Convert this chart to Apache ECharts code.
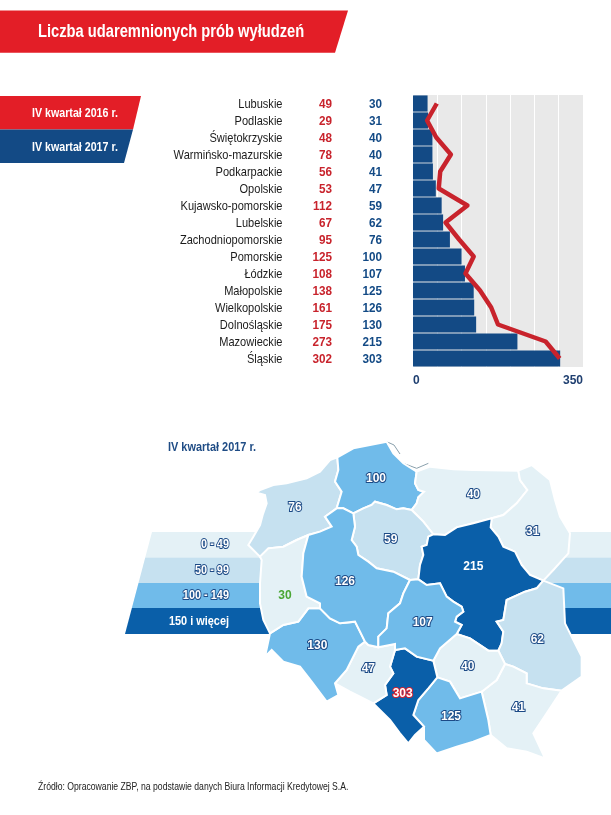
<!DOCTYPE html>
<html><head><meta charset="utf-8">
<style>html,body{margin:0;padding:0;background:#fff}#c{width:611px;height:815px}</style>
<script src="https://cdn.jsdelivr.net/npm/echarts@6/dist/echarts.min.js"></script>
</head><body><div id="c"></div>
<script>
const categories=['Lubuskie','Podlaskie','Świętokrzyskie','Warmińsko-mazurskie','Podkarpackie','Opolskie','Kujawsko-pomorskie','Lubelskie','Zachodniopomorskie','Pomorskie','Łódzkie','Małopolskie','Wielkopolskie','Dolnośląskie','Mazowieckie','Śląskie'];
const values2016=[49,29,48,78,56,53,112,67,95,125,108,138,161,175,273,302];
const values2017=[30,31,40,40,41,47,59,62,76,100,107,125,126,130,215,303];
const legendRanges=[['0 - 49',0,49],['50 - 99',50,99],['100 - 149',100,149],['150 i więcej',150,100000]];
const rangeColors=['#e4f1f6','#c6e1f0','#70bbea','#0a5fa9'];
// shared border arcs of the regions (outline geometry)
const arcs={
zp_coast:[[292,52],[270,60],[240,95],[200,115],[140,130],[100,135],[60,150],[50,158],[75,165],[80,190],[68,225],[60,255],[40,290],[25,315],[60,350]],
zp_lub:[[60,350],[85,325],[130,320],[170,300],[205,285]],
zp_wlk:[[205,285],[240,275],[275,260],[255,230],[290,205]],
zp_pom:[[290,205],[305,155],[285,125],[295,90],[292,52]],
pom_coast:[[292,52],[340,25],[390,15],[440,5],[460,40],[490,70],[530,95]],
pom_wm:[[530,95],[525,130],[535,150],[552,155],[535,172],[530,190],[515,210]],
pom_kuj:[[515,210],[490,205],[470,208],[440,195],[405,185],[395,195],[370,205],[340,220]],
pom_wlk:[[340,220],[310,205],[290,205]],
wm_coast:[[530,95],[570,80],[640,88],[700,90],[835,92]],
wm_pod:[[835,92],[840,120],[862,150],[830,190],[790,225],[755,235]],
wm_maz:[[755,235],[700,250],[650,262],[615,285],[580,283]],
wm_kuj:[[580,283],[550,245],[515,210]],
pod_ext:[[835,92],[875,75],[930,120],[945,180],[960,230],[990,280],[985,340],[940,390],[910,422]],
pod_maz:[[755,235],[752,262],[775,290],[790,320],[825,335],[845,375],[870,405],[910,422]],
kuj_maz:[[580,283],[565,290],[560,315],[545,320],[550,345],[540,375],[535,418]],
kuj_lodz:[[535,418],[510,420]],
kuj_wlk:[[510,420],[460,395],[410,385],[385,365],[355,345],[350,320],[335,300],[345,260],[340,220]],
maz_lub:[[910,422],[890,445],[855,455],[800,480],[790,540],[770,545],[790,575],[785,610],[775,632]],
maz_sw:[[775,632],[745,632],[690,595],[650,582]],
maz_lodz:[[650,582],[665,555],[645,545],[650,530],[670,515],[665,500],[640,485],[620,470],[600,430],[560,435],[535,418]],
lub_ext:[[910,422],[970,445],[975,550],[1000,600],[1025,650],[1025,710],[965,752]],
lub_pk:[[965,752],[910,745],[860,730],[860,700],[820,680],[795,672]],
lub_sw:[[795,672],[775,632]],
pk_ext:[[965,752],[920,820],[880,880],[915,955],[860,935],[800,925],[752,885]],
pk_mal:[[752,885],[745,840],[725,755]],
pk_sw:[[725,755],[770,720],[795,672]],
sw_mal:[[725,755],[660,775],[630,725],[592,712]],
sw_lodz:[[650,582],[600,625],[580,662]],
sw_sl:[[580,662],[592,712]],
mal_sl:[[592,712],[565,745],[535,780],[520,825],[552,860]],
mal_ext:[[752,885],[700,905],[650,920],[590,940],[552,900],[552,860]],
sl_ext:[[552,860],[525,885],[505,910],[480,880],[450,840],[400,790]],
sl_op:[[400,790],[440,765],[435,735],[460,700],[450,680],[465,630]],
sl_lodz:[[465,630],[495,625],[530,650],[580,662]],
op_lodz:[[465,630],[465,612],[415,622]],
op_wlk:[[415,622],[385,615],[375,605]],
op_dol:[[375,605],[355,620],[320,690],[285,730]],
op_ext:[[285,730],[330,755],[360,770],[400,790]],
dol_wlk:[[375,605],[345,545],[300,550],[270,535],[240,505]],
lub_wlk:[[205,285],[190,340],[185,410],[200,470],[240,490],[240,505]],
lub_dol:[[240,505],[205,505],[175,545],[130,555],[90,580]],
lubu_ext:[[90,580],[70,540],[60,490],[60,430],[65,360],[60,350]],
dol_ext:[[90,580],[75,650],[95,630],[130,665],[180,680],[215,725],[260,785],[295,765],[285,730]],
wlk_lodz:[[510,420],[490,460],[480,490],[445,520],[440,565],[415,590],[415,622]]
};
const regionRings={
'Zachodniopomorskie':['zp_coast','zp_lub','zp_wlk','zp_pom'],
'Pomorskie':['pom_coast','pom_wm','pom_kuj','pom_wlk','zp_pom'],
'Warmińsko-mazurskie':['wm_coast','wm_pod','wm_maz','wm_kuj','-pom_wm'],
'Podlaskie':['pod_ext','-pod_maz','-wm_pod'],
'Kujawsko-pomorskie':['-pom_kuj','-wm_kuj','kuj_maz','kuj_lodz','kuj_wlk'],
'Mazowieckie':['-wm_maz','pod_maz','maz_lub','maz_sw','maz_lodz','-kuj_maz'],
'Lubelskie':['lub_ext','lub_pk','lub_sw','-maz_lub'],
'Podkarpackie':['-lub_pk','pk_ext','pk_mal','pk_sw'],
'Świętokrzyskie':['-maz_sw','-lub_sw','-pk_sw','sw_mal','-sw_sl','-sw_lodz'],
'Małopolskie':['-sw_mal','-pk_mal','mal_ext','-mal_sl'],
'Śląskie':['sl_lodz','sw_sl','mal_sl','sl_ext','sl_op'],
'Opolskie':['op_lodz','op_wlk','op_dol','op_ext','sl_op'],
'Dolnośląskie':['-lub_dol','-dol_wlk','op_dol','-dol_ext'],
'Lubuskie':['zp_lub','lub_wlk','lub_dol','lubu_ext'],
'Wielkopolskie':['-zp_wlk','lub_wlk','-dol_wlk','-op_wlk','-wlk_lodz','kuj_wlk','pom_wlk'],
'Łódzkie':['-kuj_lodz','-maz_lodz','sw_lodz','-sl_lodz','op_lodz','-wlk_lodz']
};
const labelAnchors={'Zachodniopomorskie':[165,203],'Pomorskie':[408,115],'Warmińsko-mazurskie':[700,165],'Podlaskie':[878,275],'Kujawsko-pomorskie':[452,298],'Mazowieckie':[700,380],'Lubelskie':[892,600],'Podkarpackie':[835,802],'Świętokrzyskie':[683,680],'Małopolskie':[633,830],'Śląskie':[488,760],'Opolskie':[385,687],'Dolnośląskie':[232,617],'Lubuskie':[135,468],'Wielkopolskie':[315,425],'Łódzkie':[548,548]};
const helLine=[[440,5],[462,15],[480,42]];
const bayLine=[[490,70],[530,85],[565,70]];

const FN='"Liberation Sans",Arial,sans-serif';
const DARK='#134a85', RED='#e31e27', LINE='#c8232c', OUT='#1c4a86';
const ring=names=>{
 const out=[];
 names.forEach(n=>{
  const rev=n[0]==='-';
  const a=arcs[rev?n.slice(1):n].slice();
  if(rev)a.reverse();
  a.forEach(p=>{const l=out[out.length-1]; if(!l||l[0]!==p[0]||l[1]!==p[1])out.push(p);});
 });
 return out;
};
const geo={type:'FeatureCollection',features:Object.keys(regionRings).map(n=>{
  const r=ring(regionRings[n]).map(p=>[p[0],-p[1]]);
  const f=r[0],l=r[r.length-1]; if(f[0]!==l[0]||f[1]!==l[1])r.push(f);
  return {type:'Feature',properties:{name:n,cp:[labelAnchors[n][0],-labelAnchors[n][1]]},geometry:{type:'Polygon',coordinates:[r]}};
})};
echarts.registerMap('pl',geo);
const Z=(x,y)=>[240+x/3,440+y/3];
const bandY=[532,557.5,583,608,634];
const gfx=[
 {type:'polygon',shape:{points:[[0,10.5],[348,10.5],[335,52.7],[0,52.7]]},style:{fill:RED}},
 {type:'text',x:38,y:32,scaleX:0.84,style:{text:'Liczba udaremnionych prób wyłudzeń',fill:'#fff',font:'bold 17.5px '+FN,verticalAlign:'middle'}},
 {type:'polygon',shape:{points:[[0,96],[141,96],[133,129.5],[0,129.5]]},style:{fill:RED}},
 {type:'polygon',shape:{points:[[0,129.5],[133,129.5],[124,163],[0,163]]},style:{fill:DARK}},
 {type:'text',x:32,y:113,scaleX:0.79,style:{text:'IV kwartał 2016 r.',fill:'#fff',font:'bold 13.5px '+FN,verticalAlign:'middle'}},
 {type:'text',x:32,y:147,scaleX:0.79,style:{text:'IV kwartał 2017 r.',fill:'#fff',font:'bold 13.5px '+FN,verticalAlign:'middle'}},
 {type:'text',x:168,y:447,scaleX:0.81,style:{text:'IV kwartał 2017 r.',fill:'#1f4c85',font:'bold 13.5px '+FN,verticalAlign:'middle'}},
 {type:'text',x:38,y:787,scaleX:0.785,style:{text:'Źródło: Opracowanie ZBP, na podstawie danych Biura Informacji Kredytowej S.A.',fill:'#222',font:'11px '+FN,verticalAlign:'middle'}},
 {type:'polyline',shape:{points:helLine.map(p=>Z(p[0],p[1]))},style:{stroke:'#8aa0ac',lineWidth:1,fill:null}},
 {type:'polyline',shape:{points:bayLine.map(p=>Z(p[0],p[1]))},style:{stroke:'#8aa0ac',lineWidth:1,fill:null}}
];
const leftX=y=>152-(y-532)*27/102;
legendRanges.forEach((r,i)=>{
 const y0=bandY[i],y1=bandY[i+1];
 gfx.push({type:'polygon',shape:{points:[[leftX(y0),y0],[611,y0],[611,y1],[leftX(y1),y1]]},style:{fill:rangeColors[i]}});
 const plain=i===3;
 gfx.push({type:'text',x:229,y:(y0+y1)/2,scaleX:0.84,style:{text:r[0],fill:'#fff',font:'bold 13px '+FN,align:'right',verticalAlign:'middle',stroke:plain?null:OUT,lineWidth:plain?0:2}});
});
const labelStyle=n=>{
 if(n==='Lubuskie')return {color:'#4aa634',textBorderWidth:0};
 if(n==='Mazowieckie')return {color:'#fff',textBorderWidth:0};
 if(n==='Śląskie')return {color:'#fff',textBorderColor:'#d8202f',textBorderWidth:2};
 return {color:'#fff',textBorderColor:OUT,textBorderWidth:2};
};
const mapData=categories.map((n,i)=>({name:n,value:values2017[i],label:labelStyle(n)}));
const textColumn=(texts,x,color,font,scaleX)=>({
 type:'custom',coordinateSystem:'cartesian2d',clip:false,silent:true,z:6,
 data:texts.map((t,i)=>[0,categories[i]]),
 renderItem:(p,api)=>({type:'text',x:x,y:api.coord([0,categories[p.dataIndex]])[1]+1.2,scaleX:scaleX,
   style:{text:String(texts[p.dataIndex]),fill:color,font:font,align:'right',verticalAlign:'middle'}})
});
const chart=echarts.init(document.getElementById('c'),null,{renderer:'canvas'});
chart.setOption({
 animation:false,
 graphic:{elements:gfx},
 grid:{left:413,top:95,width:170,height:272,show:true,backgroundColor:'#e9e9e9',borderWidth:0},
 xAxis:{type:'value',min:0,max:350,interval:50,axisLine:{show:false},axisTick:{show:false},
  splitLine:{show:true,lineStyle:{color:'#fff',width:1}},
  axisLabel:{margin:8,alignMinLabel:'left',alignMaxLabel:'right',color:'#1f3f70',fontFamily:FN,fontWeight:'bold',fontSize:12,
   formatter:v=>(v===0||v===350)?String(v):''}},
 yAxis:{type:'category',data:categories,inverse:true,axisLine:{show:false},axisTick:{show:false},axisLabel:{show:false}},
 visualMap:{show:false,type:'piecewise',seriesIndex:2,dimension:0,
  pieces:legendRanges.map((r,i)=>({min:r[1],max:r[2],color:rangeColors[i]}))},
 series:[
  {type:'bar',name:'IV kwartał 2017 r.',data:values2017,barCategoryGap:'5%',itemStyle:{color:DARK},silent:true},
  {type:'line',name:'IV kwartał 2016 r.',data:values2016,showSymbol:false,symbol:'none',lineStyle:{color:LINE,width:4.5,cap:'butt',join:'round'},z:5,silent:true},
  {type:'map',map:'pl',aspectScale:1,left:240+25/3,top:440+5/3,width:1000/3,height:950/3,roam:false,silent:true,z:3,
   itemStyle:{borderColor:'#fff',borderWidth:2},
   label:{show:true,formatter:p=>p.value,fontFamily:FN,fontWeight:'bold',fontSize:12},
   data:mapData},
  textColumn(categories,282.5,'#1b1b1b','13px '+FN,0.85),
  textColumn(values2016,332,'#c8232c','bold 13px '+FN,0.9),
  textColumn(values2017,382,DARK,'bold 13px '+FN,0.9)
 ]
});
</script></body></html>
